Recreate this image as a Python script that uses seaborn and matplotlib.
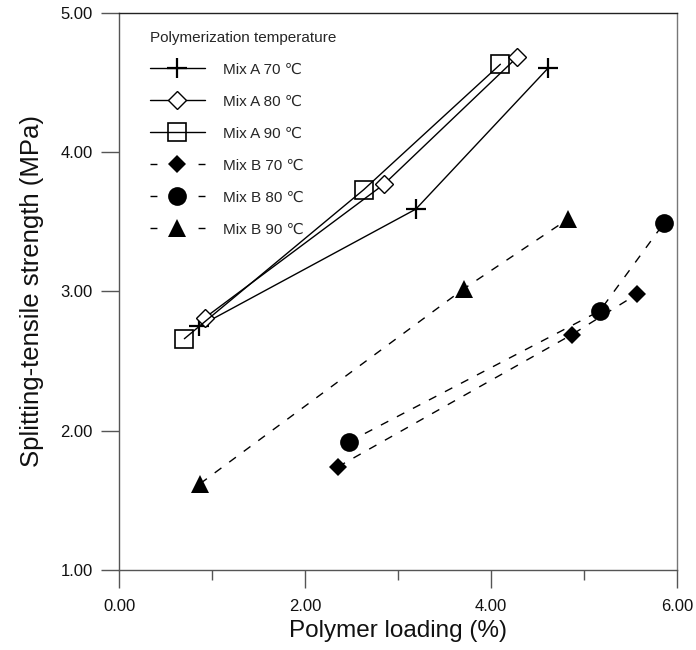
import matplotlib
matplotlib.use("Agg")
import matplotlib.pyplot as plt
import seaborn as sns
import pandas as pd
from matplotlib.lines import Line2D
from matplotlib.ticker import FixedLocator, FormatStrFormatter

# ---- data ----
labels = ["Mix A 70 \u2103", "Mix A 80 \u2103", "Mix A 90 \u2103",
          "Mix B 70 \u2103", "Mix B 80 \u2103", "Mix B 90 \u2103"]
a70_x = [0.86, 3.19, 4.61]
a70_y = [2.75, 3.59, 4.60]
a80_x = [0.92, 2.85, 4.28]
a80_y = [2.81, 3.77, 4.68]
a90_x = [0.70, 2.63, 4.10]
a90_y = [2.66, 3.73, 4.63]
b70_x = [2.35, 4.87, 5.57]
b70_y = [1.74, 2.69, 2.98]
b80_x = [2.47, 5.17, 5.86]
b80_y = [1.92, 2.86, 3.49]
b90_x = [0.87, 3.71, 4.83]
b90_y = [1.62, 3.02, 3.52]
x_ticks = [0, 2, 4, 6]
x_minor = [1, 3, 5]
y_ticks = [1, 2, 3, 4, 5]

sns.set_theme(style="white")
plt.rcParams["font.family"] = ["Liberation Sans", "DejaVu Sans"]

fig = plt.figure(figsize=(6.96, 6.50), dpi=100)
ax = fig.add_axes([119.3 / 696, 1 - 570 / 650, (677 - 119.3) / 696, (570 - 12.7) / 650])

xs = [a70_x, a80_x, a90_x, b70_x, b80_x, b90_x]
ys = [a70_y, a80_y, a90_y, b70_y, b80_y, b90_y]
dash = (0, (6, 7))
styles = [
    dict(marker="+", markersize=14, markeredgewidth=1.6, mfc="none", ls="-"),
    dict(marker="D", markersize=8.8, markeredgewidth=1.0, mfc="white", ls="-"),
    dict(marker="s", markersize=13.5, markeredgewidth=1.2, mfc="none", ls="-"),
    dict(marker="D", markersize=9.5, markeredgewidth=0, mfc="black", ls=dash),
    dict(marker="o", markersize=13.5, markeredgewidth=0, mfc="black", ls=dash),
    dict(marker="^", markersize=12.5, markeredgewidth=0, mfc="black", ls=dash),
]

for lab, x, y, st in zip(labels, xs, ys, styles):
    df = pd.DataFrame({"x": x, "y": y})
    sns.lineplot(data=df, x="x", y="y", ax=ax, color="black", linewidth=1.0,
                 marker=st["marker"], markersize=st["markersize"],
                 markeredgewidth=st["markeredgewidth"], markerfacecolor=st["mfc"],
                 markeredgecolor="black", linestyle=st["ls"], estimator=None,
                 sort=False, legend=False)

ax.set_xlim(0, 6)
ax.set_ylim(1, 5)
ax.xaxis.set_major_locator(FixedLocator(x_ticks))
ax.xaxis.set_minor_locator(FixedLocator(x_minor))
ax.yaxis.set_major_locator(FixedLocator(y_ticks))
ax.xaxis.set_major_formatter(FormatStrFormatter("%.2f"))
ax.yaxis.set_major_formatter(FormatStrFormatter("%.2f"))
ax.tick_params(axis="both", which="major", direction="out", length=13, width=1.0,
               color="#555555", labelsize=12, labelcolor="#111111",
               bottom=True, left=True)
ax.tick_params(axis="x", which="major", pad=8)
ax.tick_params(axis="y", which="major", pad=6)
ax.tick_params(axis="x", which="minor", direction="out", length=7, width=1.0,
               color="#555555", bottom=True)
for side in ["left", "bottom"]:
    ax.spines[side].set_color("#555555")
    ax.spines[side].set_linewidth(1.0)
ax.spines["top"].set_color("#222222")
ax.spines["top"].set_linewidth(1.0)
ax.spines["right"].set_color("#777777")
ax.spines["right"].set_linewidth(1.0)

ax.set_xlabel("Polymer loading (%)", fontsize=17.5, color="#111111", labelpad=4)
ax.set_ylabel("Splitting-tensile strength (MPa)", fontsize=18.5, color="#111111", labelpad=12)

# legend
leg_dash = (0, (5, 29.6))
handles = []
for i, st in enumerate(styles):
    ls = "-" if i < 3 else leg_dash
    handles.append(Line2D([], [], color="black", linewidth=1.0, linestyle=ls,
                          marker=st["marker"], markersize=st["markersize"],
                          markeredgewidth=st["markeredgewidth"],
                          markerfacecolor=st["mfc"], markeredgecolor="black"))
leg = ax.legend(handles, labels, title="Polymerization temperature",
                loc="upper left", bbox_to_anchor=(0.055, 0.968), frameon=False,
                fontsize=11, title_fontsize=11, handlelength=3.6,
                handletextpad=1.2, labelspacing=1.18, borderpad=0,
                borderaxespad=0, alignment="left")

fig.savefig("out.png", dpi=100)
